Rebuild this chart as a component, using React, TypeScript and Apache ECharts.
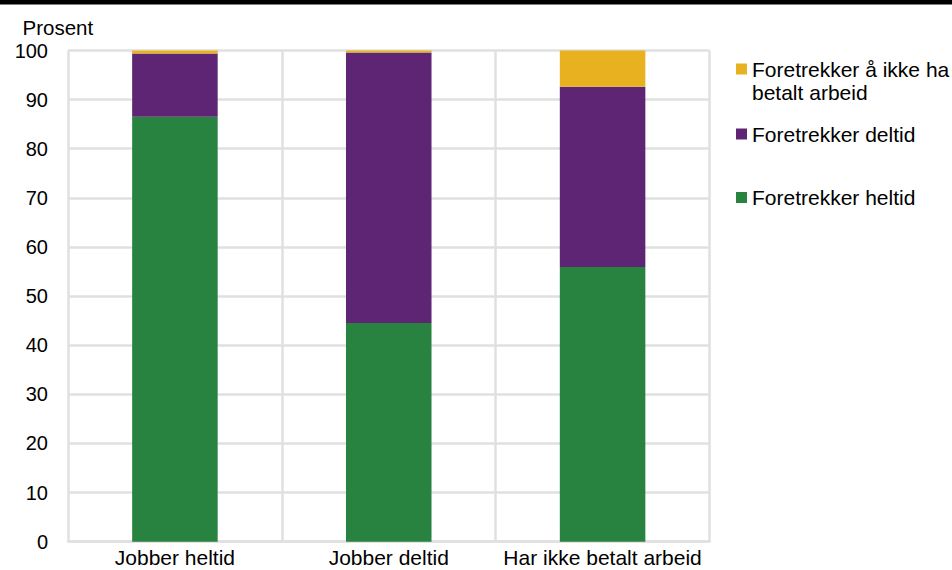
import React, { useEffect, useRef } from "react";
import * as echarts from "echarts";

const categories = ["Jobber heltid", "Jobber deltid", "Har ikke betalt arbeid"];
const heltid = [86.5, 44.5, 55.9];
const deltid = [12.9, 55.1, 36.7];
const ikkeArbeid = [0.6, 0.4, 7.4];
const yTicks = { min: 0, max: 100, interval: 10 };
const seriesNames = ["Foretrekker heltid", "Foretrekker deltid", "Foretrekker å ikke ha betalt arbeid"];
const colors = ["#288240", "#5e2574", "#e8b120"];

const FONT = "'Liberation Sans', Arial, Helvetica, sans-serif";
const GRID_COLOR = "#e0e0e0";

export default function App() {
  const ref = useRef<HTMLDivElement>(null);
  useEffect(() => {
    if (!ref.current) return;
    const chart = echarts.init(ref.current, undefined, { renderer: "svg" });
    const values = [heltid, deltid, ikkeArbeid];
    const legendTops = [186, 122.5, 34.5];
    chart.setOption({
      animation: false,
      textStyle: { fontFamily: FONT },
      grid: { left: 68, right: 242.5, top: 50.5, bottom: 28.3, containLabel: false },
      xAxis: {
        type: "category",
        data: categories,
        axisLine: { show: true, lineStyle: { color: GRID_COLOR, width: 2.5 } },
        axisTick: { show: false },
        splitLine: { show: true, lineStyle: { color: GRID_COLOR, width: 2.5 } },
        axisLabel: { color: "#000", fontSize: 21, fontFamily: FONT, margin: 5, interval: 0 },
      },
      yAxis: {
        type: "value",
        min: yTicks.min,
        max: yTicks.max,
        interval: yTicks.interval,
        axisLine: { show: false },
        axisTick: { show: false },
        splitLine: { show: true, lineStyle: { color: GRID_COLOR, width: 2.5 } },
        axisLabel: { color: "#000", fontSize: 20, fontFamily: FONT, margin: 20 },
      },
      legend: seriesNames.map((n, i) => ({
        data: [n],
        left: 736,
        top: legendTops[i],
        padding: 0,
        itemWidth: 11,
        itemHeight: 11,
        icon: "rect",
        selectedMode: false,
        formatter: i === 2 ? "\nForetrekker å ikke ha\nbetalt arbeid" : "{name}",
        textStyle: { color: "#000", fontSize: 21, fontFamily: FONT, lineHeight: 23 },
      })),
      graphic: [
        { type: "rect", left: 0, top: 0, shape: { x: 0, y: 0, width: 952, height: 4.5 }, style: { fill: "#000" } },
        {
          type: "text",
          x: 22.5,
          y: 27,
          style: { text: "Prosent", fill: "#000", font: `20.5px ${FONT}`, verticalAlign: "middle", align: "left" },
        },
      ],
      series: seriesNames.map((n, i) => ({
        name: n,
        type: "bar",
        stack: "total",
        barWidth: "40%",
        data: values[i],
        itemStyle: { color: colors[i] },
      })),
    });
    return () => chart.dispose();
  }, []);
  return <div ref={ref} style={{ position: "absolute", left: 0, top: 0, width: 952, height: 570 }} />;
}
